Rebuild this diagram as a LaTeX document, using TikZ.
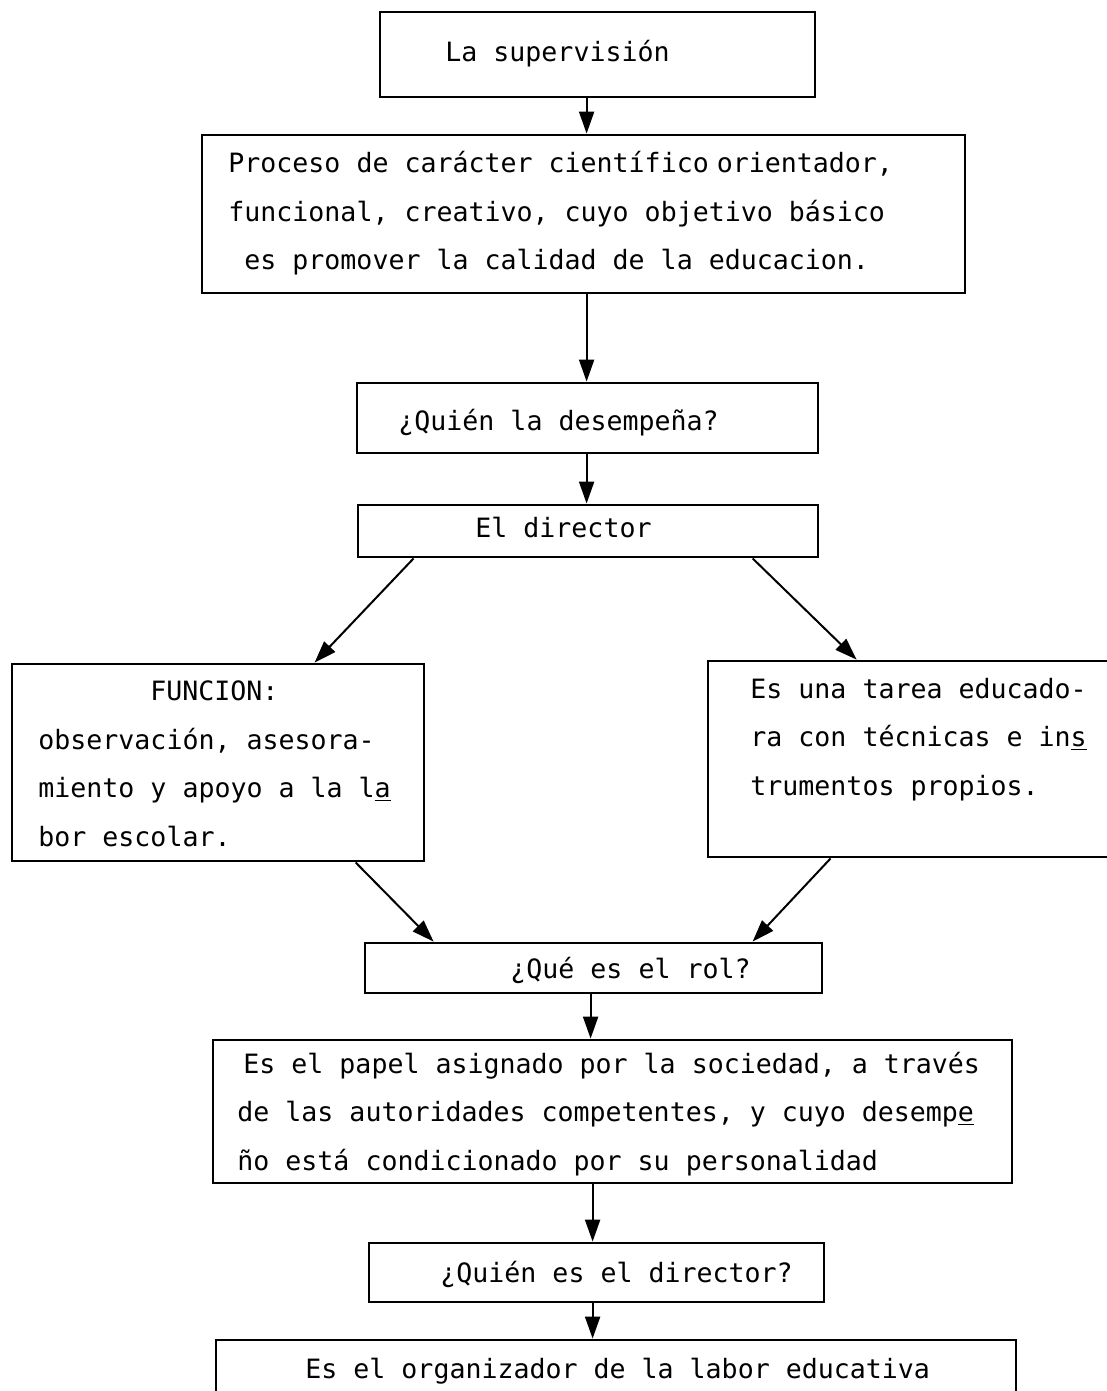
\documentclass[tikz,border=0pt]{standalone}
\usepackage{fontspec}
\newfontfamily\typefont{DejaVu Sans Mono}
\usetikzlibrary{arrows.meta,calc}

\begin{document}
\begin{tikzpicture}[x=0.5pt,y=-0.5pt,
    box/.style={draw=black,line width=1.4pt,inner sep=0pt},
    txt/.style={anchor=base west,inner sep=0pt,align=left,font=\typefont\fontsize{13.3}{24.25}\selectfont},
    e/.style={-{Triangle[length=11pt,width=7.5pt]},line width=1pt}
  ]
    \useasboundingbox (0,0) rectangle (1107,1391);
    \clip (0,0) rectangle (1107,1391);
    % boxes
    \node[box,minimum width=217.5pt,minimum height=42.5pt] (sup) at (597.5,54.5) {};
    \node[box,minimum width=381.5pt,minimum height=79pt] (proc) at (583.5,214) {};
    \node[box,minimum width=230.5pt,minimum height=35pt] (quien) at (587.5,418) {};
    \node[box,minimum width=230pt,minimum height=26pt] (dir) at (588,531) {};
    \node[box,minimum width=206pt,minimum height=98.5pt] (func) at (218,762.5) {};
    \node[box,minimum width=201pt,minimum height=98pt] (tarea) at (909,759) {};
    \node[box,minimum width=228.5pt,minimum height=25pt] (rol) at (593.5,968) {};
    \node[box,minimum width=399.5pt,minimum height=71.5pt] (papel) at (612.5,1111.5) {};
    \node[box,minimum width=227.5pt,minimum height=29.5pt] (quiendir) at (596.5,1272.5) {};
    \node[box,minimum width=400pt,minimum height=40pt] (org) at (616,1380) {};
    % texts (multi-line ones sit on their last baseline)
    \node[txt] (supT) at (445,62) {La supervisión};
    \node[txt] (procT) at (228,270) {Proceso de carácter científico\hspace{4pt}orientador,\\
      funcional, creativo, cuyo objetivo básico\\
      \hspace{8pt}es promover la calidad de la educacion.};
    \node[txt] (quienT) at (398,430) {¿Quién la desempeña?};
    \node[txt] (dirT) at (475,537) {El director};
    \node[txt] (funcT) at (38,846) {\hspace{56pt}FUNCION:\\
      observación, asesora-\\
      miento y apoyo a la l\underline{a}\\
      bor escolar.};
    \node[txt] (tareaT) at (750,795) {Es una tarea educado-\\
      ra con técnicas e in\underline{s}\\
      trumentos propios.};
    \node[txt] (rolT) at (510,978) {¿Qué es el rol?};
    \node[txt] (papelT) at (237,1170) {\hspace{3pt}Es el papel asignado por la sociedad, a través\\
      de las autoridades competentes, y cuyo desemp\underline{e}\\
      ño está condicionado por su personalidad};
    \node[txt] (quiendirT) at (440,1282) {¿Quién es el director?};
    \node[txt] (orgT) at (305,1378) {Es el organizador de la labor educativa};
    % arrows
    \draw[e] ($(sup.south west)+(208,0)$) -- ($(proc.north west)+(386,0)$);
    \draw[e] ($(proc.south west)+(386,0)$) -- ($(quien.north west)+(231,0)$);
    \draw[e] ($(quien.south west)+(231,0)$) -- ($(dir.north west)+(230,0)$);
    \draw[e] ($(dir.south west)+(57,0)$) -- ($(func.north west)+(304,0)$);
    \draw[e] ($(dir.south west)+(396,0)$) -- ($(tarea.north west)+(150,0)$);
    \draw[e] ($(func.south west)+(345,0)$) -- ($(rol.north west)+(70,0)$);
    \draw[e] ($(tarea.south west)+(124,0)$) -- ($(rol.north west)+(389,0)$);
    \draw[e] ($(rol.south west)+(227,0)$) -- ($(papel.north west)+(379,0)$);
    \draw[e] ($(papel.south west)+(381,0)$) -- ($(quiendir.north west)+(225,0)$);
    \draw[e] ($(quiendir.south west)+(225,0)$) -- ($(org.north west)+(378,0)$);
\end{tikzpicture}
\end{document}
